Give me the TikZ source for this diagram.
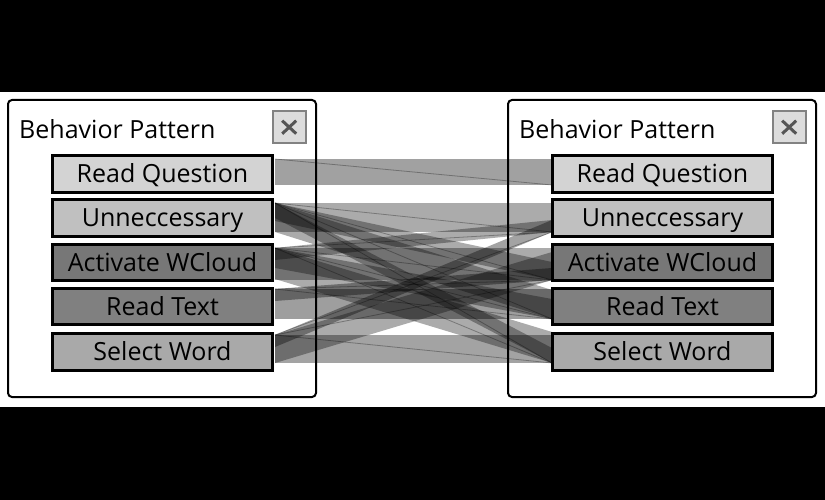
\documentclass[tikz,border=0pt]{standalone}
\usepackage{fontspec}
\setmainfont{Open Sans}
\usetikzlibrary{calc}
\definecolor{cA}{HTML}{D3D3D3}
\definecolor{cB}{HTML}{C0C0C0}
\definecolor{cC}{HTML}{777777}
\definecolor{cD}{HTML}{808080}
\definecolor{cE}{HTML}{A9A9A9}
\definecolor{btnfill}{HTML}{DCDCDC}
\definecolor{btnline}{HTML}{828282}
\definecolor{xmark}{HTML}{555555}
\newcommand\flowband[4]{%
  \fill[black, fill opacity=#4] (L#1t) -- ($(R#2b)+(0,-#3)$) -- (R#2b) -- ($(L#1t)+(0,#3)$) -- cycle;
  \draw[black, draw opacity=0.3, line width=0.8pt] (L#1t) -- (R#2b);
}
\begin{document}
\begin{tikzpicture}[x=1pt,y=-1pt,
  panel/.style={draw=black, line width=2pt, rounded corners=4pt, minimum width=308pt, minimum height=297pt, inner sep=0pt},
  state/.style={draw=black, line width=3pt, minimum width=220pt, minimum height=36.4pt, inner sep=0pt,
     font=\fontsize{25}{30}\selectfont, text height=17.8pt, text depth=0pt},
  title/.style={anchor=base west, inner sep=0pt, font=\fontsize{25}{30}\selectfont},
  closebtn/.style={draw=btnline, fill=btnfill, line width=2pt, minimum width=33pt, minimum height=32.3pt, inner sep=0pt},
  xline/.style={draw=xmark, line width=3pt}
]
\useasboundingbox (0,0) rectangle (825,500);
\fill[black] (0,0) rectangle (825,500);
\fill[white] (0,92) rectangle (825,407);

% band anchor coordinates (left tops, right bottoms)
\coordinate (L1t) at (275,159);
\coordinate (L2t) at (275,203);
\coordinate (L3t) at (275,248);
\coordinate (L4t) at (275,289);
\coordinate (L5t) at (275,335);
\coordinate (R1b) at (552,185);
\coordinate (R2b) at (552,232);
\coordinate (R3b) at (552,280);
\coordinate (R4b) at (552,319);
\coordinate (R5b) at (552,363);

% flows
\flowband{1}{1}{26}{0.37}
\flowband{2}{2}{29}{0.33}
\flowband{2}{3}{18}{0.33}
\flowband{2}{4}{29}{0.33}
\flowband{2}{5}{15}{0.33}
\flowband{3}{2}{12}{0.33}
\flowband{3}{3}{32}{0.33}
\flowband{3}{4}{20}{0.33}
\flowband{3}{5}{31}{0.33}
\flowband{4}{3}{12}{0.36}
\flowband{4}{4}{30}{0.38}
\flowband{5}{2}{12}{0.36}
\flowband{5}{3}{28}{0.33}
\flowband{5}{5}{28}{0.36}

% panels
\node[panel] (P1) at (162,248.5) {};
\node[panel] (P2) at (662,248.5) {};

\foreach \px/\nm in {0/A, 500/B} {
  \node[title] (T\nm) at (\px+19,138.3) {Behavior Pattern};
  \node[closebtn] (C\nm) at (\px+289.2,127.2) {};
  \draw[xline] ($(C\nm.center)+(-7,-6.5)$) -- ($(C\nm.center)+(7,6.5)$);
  \draw[xline] ($(C\nm.center)+(-7,6.5)$) -- ($(C\nm.center)+(7,-6.5)$);
}

% left boxes
\node[state, fill=cA] (LB1) at (162.5,174) {Read Question};
\node[state, fill=cB] (LB2) at (162.5,218) {Unneccessary};
\node[state, fill=cC] (LB3) at (162.5,262.7) {Activate WCloud};
\node[state, fill=cD] (LB4) at (162.5,306.7) {Read Text};
\node[state, fill=cE] (LB5) at (162.5,351.8) {Select Word};
% right boxes
\node[state, fill=cA] (RB1) at (662.5,174) {Read Question};
\node[state, fill=cB] (RB2) at (662.5,218) {Unneccessary};
\node[state, fill=cC] (RB3) at (662.5,262.7) {Activate WCloud};
\node[state, fill=cD] (RB4) at (662.5,306.7) {Read Text};
\node[state, fill=cE] (RB5) at (662.5,351.8) {Select Word};
\end{tikzpicture}
\end{document}
